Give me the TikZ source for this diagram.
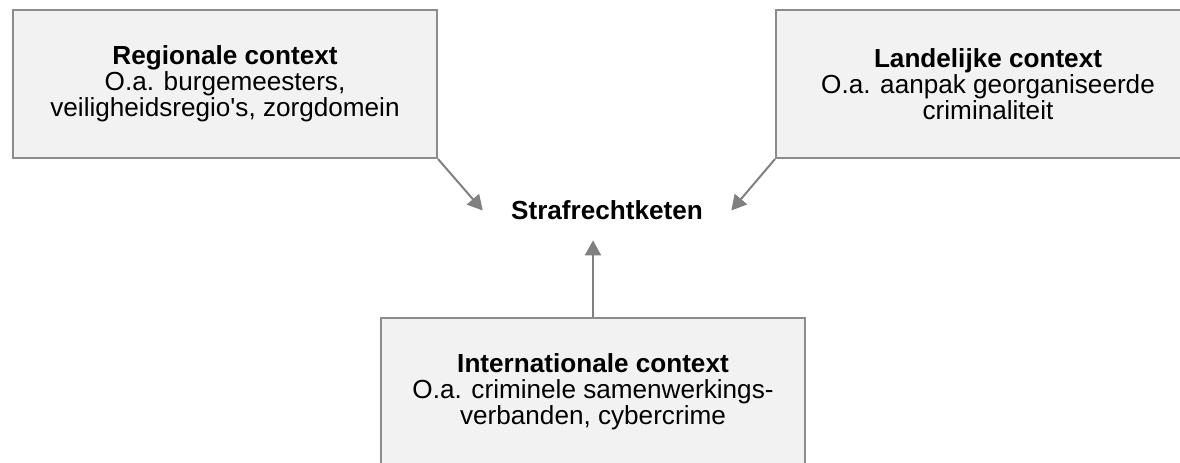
\documentclass[tikz,border=0pt]{standalone}
\usepackage{fontspec}
\setmainfont{Liberation Sans}
\usepackage{tikz}
\usetikzlibrary{arrows.meta,positioning}

\definecolor{boxfill}{HTML}{F2F2F2}
\definecolor{boxline}{HTML}{8C8C8C}
\definecolor{pijl}{HTML}{808080}

\tikzset{
  context/.style={draw=boxline, fill=boxfill, line width=1.5pt,
    minimum width=318pt, minimum height=111pt, align=center,
    font=\fontsize{19.6}{19.6}\selectfont},
  keten/.style={minimum width=186pt, inner ysep=0pt,
    font=\fontsize{19.6}{19.6}\selectfont\bfseries},
  invloed/.style={draw=pijl, line width=1.5pt,
    -{Triangle[length=11.25pt,width=12pt]}}
}

\begin{document}
\begin{tikzpicture}[x=0.75pt,y=-0.75pt,on grid]
    \clip (0,0) rectangle (1180,462);
    \node[context] (regionaal) at (225,84)
        {\textbf{Regionale context}\\O.a. burgemeesters,\\veiligheidsregio\textquotesingle s, zorgdomein};
    \node[context] (landelijk) [right=572.25pt of regionaal]
        {\textbf{Landelijke context}\\O.a. aanpak georganiseerde\\criminaliteit};
    \node[keten] (straf) at (607,210.5) {Strafrechtketen};
    \node[context] (internationaal) at (593,392)
        {\textbf{Internationale context}\\O.a. criminele samenwerkings-\\verbanden, cybercrime};
    \draw[invloed] (regionaal.south east) -- (straf.west);
    \draw[invloed] (landelijk.south west) -- (straf.east);
    \draw[invloed, shorten >=15pt] (internationaal.north) -- (internationaal.north |- straf.south);
\end{tikzpicture}
\end{document}
